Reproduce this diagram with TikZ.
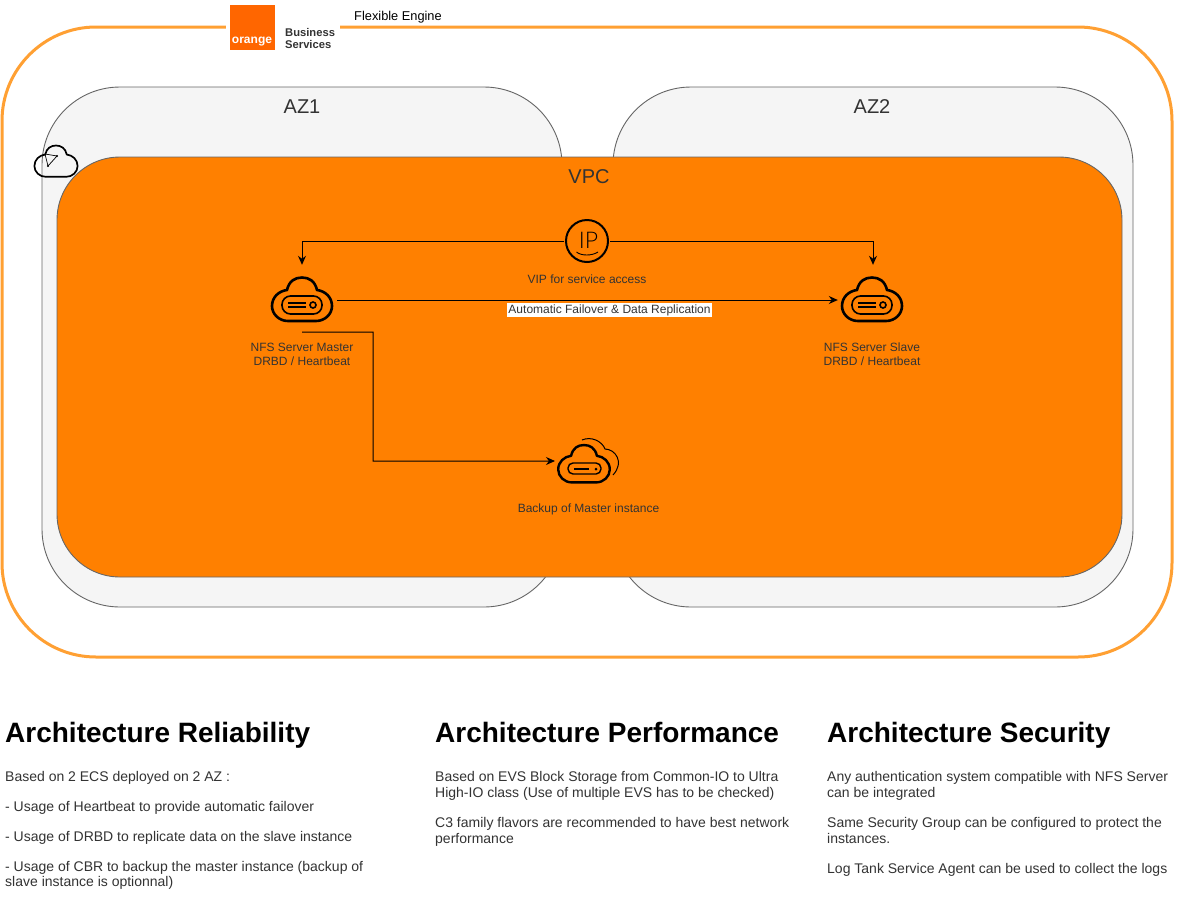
\documentclass[tikz,border=0pt]{standalone}
\usepackage{fontspec}
\setmainfont{Liberation Sans}
\newfontfamily\thinfont{Lato Light}
\usetikzlibrary{arrows.meta, positioning, shapes.geometric}

\definecolor{outerorange}{HTML}{FFA033}
\definecolor{vpcorange}{HTML}{FF8000}
\definecolor{logoorange}{HTML}{FF6600}
\definecolor{azfill}{HTML}{F5F5F5}
\definecolor{azline}{HTML}{666666}
\definecolor{inktext}{HTML}{333333}

\begin{document}
\begin{tikzpicture}[
        x=1pt, y=-1pt,
        % STYLES
        platform/.style={rectangle, draw=outerorange, line width=3pt, rounded corners=94pt, minimum width=1170pt, minimum height=630pt},
        azone/.style={rectangle, draw=azline, fill=azfill, line width=0.9pt, rounded corners=78pt, minimum width=520pt, minimum height=520pt},
        vpcbox/.style={rectangle, draw=azline, fill=vpcorange, line width=0.9pt, rounded corners=63pt, minimum width=1065pt, minimum height=420pt},
        iconbox/.style={rectangle, minimum width=70pt, minimum height=67pt, inner sep=0pt},
        zonetitle/.style={font=\fontsize{20}{24}\selectfont, text=inktext},
        caption/.style={font=\fontsize{12}{14}\selectfont, text=inktext, align=center, inner sep=0pt},
        headline/.style={font=\fontsize{28}{32}\selectfont\bfseries, text=black, anchor=base west, inner sep=0pt},
        bodytext/.style={font=\fontsize{14}{15}\selectfont, text=inktext, align=left, anchor=north west, inner sep=0pt},
        widebody/.style={bodytext, font=\fontsize{14}{16}\selectfont},
        % ARROWS
        link/.style={->, >={Stealth[length=9pt, width=8pt]}, line width=1pt, black},
        % ICONS
        cloudline/.pic={
            \draw[line width=#1, line join=round] (-14,22) .. controls (-23,22) and (-30,15) .. (-30,7)
                .. controls (-30,-2) and (-23,-8) .. (-15,-9)
                .. controls (-13,-18) and (-7,-21.5) .. (0,-21.5)
                .. controls (7,-21.5) and (13,-18) .. (15,-9)
                .. controls (23,-8) and (30,-2) .. (30,7)
                .. controls (30,15) and (23,22) .. (14,22) -- cycle;
        },
        serverpic/.pic={
            \pic {cloudline=2.6pt};
            \draw[line width=1.6pt, rounded corners=8.5pt] (-20,-3) rectangle (20,15);
            \draw[line width=1.5pt] (-14,4) -- (4,4) (-14,8) -- (4,8);
            \draw[line width=1.6pt] (11,6) circle (3);
        }
    ]
    \useasboundingbox (0,0) rectangle (1195,898);
    \fill[white] (0,0) rectangle (1195,898);

    % ===================================
    % 1. Containers
    % ===================================
    \node[platform] (engine) at (587,342) {};
    \node[azone] (az1) at (302,347) {};
    \node[azone] (az2) at (873,347) {};
    \node[vpcbox] (vpc) at (589.5,367) {};

    \node[zonetitle] (az1title) at (302,107) {AZ1};
    \node[zonetitle] (az2title) at (872,107) {AZ2};
    \node[zonetitle] (vpctitle) at (589,176.5) {VPC};

    % small VPC cloud
    \pic[scale=0.72] at (56,161) {cloudline=1.7pt};
    \draw[line width=0.7pt] (45,154) -- (57,156) -- (48,166) -- cycle;
    \fill (57,156) circle (1.2) (48,166) circle (1.2);

    % ===================================
    % 2. Logo
    % ===================================
    \fill[white] (226,2) rectangle (340,52);
    \node[rectangle, fill=logoorange, minimum size=45pt, inner sep=0pt] (logo) at (252,27) {};
    \node[font=\fontsize{12}{14}\selectfont\bfseries, text=white, inner sep=0pt] (logotext) at (252,41.5) {orange};
    \node[font=\fontsize{11.2}{12}\selectfont\bfseries, text=inktext, align=left, inner sep=0pt, anchor=west] (bstext) at (285,38) {Business\\Services};
    \node[font=\fontsize{12.8}{14}\selectfont, text=black, inner sep=0pt] (fetext) at (398,17) {Flexible Engine};

    % ===================================
    % 3. Instances and VIP
    % ===================================
    \node[iconbox] (master) at (302,298.5) {};
    \node[iconbox] (slave) at (873,298.5) {};
    \node[iconbox, anchor=west] (backup) at (555,461) {};
    \node[circle, draw, line width=2pt, minimum size=42pt, inner sep=0pt, outer sep=2pt] (vip) at (587,241) {};
    \node[font=\thinfont\fontsize{23}{24}\selectfont, inner sep=0pt] (iptext) at (588.5,240) {IP};
    \draw[line width=0.9pt] (576.5,252) .. controls (581,256) and (592,256) .. (598,252);

    \pic at (302,299) {serverpic};
    \pic at (872,299) {serverpic};

    % backup icon
    \pic[scale=0.86] at (584,463.5) {cloudline=2.4pt};
    \draw[line width=1.4pt, rounded corners=5pt] (568,463) rectangle (601,474);
    \draw[line width=1.4pt] (574,469) -- (589,469);
    \fill (596,469) circle (1.5);
    \draw[line width=1pt] (582,440) .. controls (591,436) and (602,441) .. (605,449)
        .. controls (615,449) and (625,462) .. (613,475);

    \node[caption] (vipcaption) at (587,279) {VIP for service access};
    \node[caption] (mastercaption) at (302,354) {NFS Server Master\\DRBD / Heartbeat};
    \node[caption] (slavecaption) at (872,354) {NFS Server Slave\\DRBD / Heartbeat};
    \node[caption] (backupcaption) at (588.5,509) {Backup of Master instance};

    % ===================================
    % 4. Connectors
    % ===================================
    \coordinate (elbow) at (373,332);
    \draw[link] (vip.west) -| (master.north);
    \draw[link] (vip.east) -| (slave.north);
    \draw[link] ([yshift=-1.5pt]master.east) -- ([yshift=-1.5pt]slave.west)
        node[pos=0.544, yshift=-10pt, fill=white, font=\fontsize{12}{14}\selectfont, text=inktext, inner xsep=1pt, inner ysep=1pt] (failover) {Automatic Failover \& Data Replication};
    \draw[link] (master.south) -- (elbow) |- (backup.west);

    % ===================================
    % 5. Text columns
    % ===================================
    \node[headline] (reltitle) at (5,742) {Architecture Reliability};
    \node[headline] (perftitle) at (435,742) {Architecture Performance};
    \node[headline] (sectitle) at (827,742) {Architecture Security};

    \node[bodytext] (reltext) at (5,771) {Based on 2 ECS deployed on 2 AZ :\\[15pt]- Usage of Heartbeat to provide automatic failover\\[15pt]- Usage of DRBD to replicate data on the slave instance\\[15pt]- Usage of CBR to backup the master instance (backup of\\slave instance is optionnal)};
    \node[widebody] (perftext) at (435,771) {Based on EVS Block Storage from Common-IO to Ultra\\High-IO class (Use of multiple EVS has to be checked)\\[14pt]C3 family flavors are recommended to have best network\\performance};
    \node[widebody] (sectext) at (827,771) {Any authentication system compatible with NFS Server\\can be integrated\\[14pt]Same Security Group can be configured to protect the\\instances.\\[14pt]Log Tank Service Agent can be used to collect the logs};
\end{tikzpicture}
\end{document}
